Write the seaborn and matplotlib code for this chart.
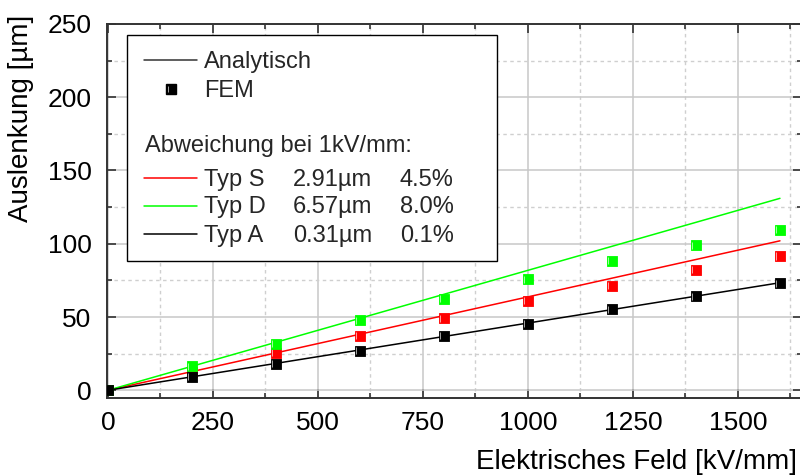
import matplotlib
matplotlib.use("Agg")
import matplotlib.pyplot as plt
from matplotlib.lines import Line2D
from matplotlib.patches import Rectangle
from matplotlib.path import Path
import numpy as np
import pandas as pd
import seaborn as sns

# ---------------- data ----------------
field_fem = [0, 200, 400, 600, 800, 1000, 1200, 1400, 1600]
fem_typ_s = [0, 12.5, 25.5, 36.9, 49.0, 60.8, 71.5, 82.0, 91.5]
fem_typ_d = [0, 16.4, 31.9, 47.8, 62.6, 75.6, 88.1, 99.0, 109.3]
fem_typ_a = [0, 9.1, 18.2, 26.9, 36.9, 45.5, 55.3, 64.0, 72.9]

field_analytic = [0, 1600]
ana_typ_s = [0, 102.0]
ana_typ_d = [0, 131.0]
ana_typ_a = [0, 73.4]

types = ["Typ S", "Typ D", "Typ A"]
colors = ["#ff0000", "#00ff00", "#000000"]
dev_um = ["2.91µm", "6.57µm", "0.31µm"]
dev_pct = ["4.5%", "8.0%", "0.1%"]

x_major = [0, 250, 500, 750, 1000, 1250, 1500]
x_minor = [125, 375, 625, 875, 1125, 1375, 1625]
y_major = [0, 50, 100, 150, 200, 250]
y_minor = [25, 75, 125, 175, 225]

fem_df = pd.DataFrame({
    "E": field_fem * 3,
    "u": fem_typ_s + fem_typ_d + fem_typ_a,
    "Typ": [t for t in types for _ in field_fem],
})
ana_df = pd.DataFrame({
    "E": field_analytic * 3,
    "u": ana_typ_s + ana_typ_d + ana_typ_a,
    "Typ": [t for t in types for _ in field_analytic],
})
palette = dict(zip(types, colors))

# white highlight stripe inside the square markers (Origin style)
stripe = Path([(-0.5, -0.5), (0.5, 0.5), (-0.36, -0.32), (-0.36, 0.36)],
              [Path.MOVETO, Path.MOVETO, Path.MOVETO, Path.LINETO])

# ---------------- style ----------------
sns.set_theme(style="white")
plt.rcParams["font.family"] = ["Liberation Sans", "DejaVu Sans"]

fig = plt.figure(figsize=(8.0, 4.76), dpi=100)
ax = fig.add_axes([0.1334, 0.1632, 1.002 - 0.1334, 0.9496 - 0.1632])

ax.set_xlim(-3, 1651.5)
ax.set_ylim(-5.5, 250)

ax.set_xticks(x_major)
ax.set_xticks(x_minor, minor=True)
ax.set_yticks(y_major)
ax.set_yticks(y_minor, minor=True)

ax.grid(True, which="major", color="#c8c8c8", linewidth=1.1, linestyle="-")
ax.grid(True, which="minor", color="#cfcfcf", linewidth=1.0, linestyle=(0, (2.5, 2.5)))
ax.set_axisbelow(True)

sns.lineplot(data=ana_df, x="E", y="u", hue="Typ", palette=palette,
             linewidth=1.1, legend=False, ax=ax, zorder=3)
for t, c in zip(types, colors):
    sub = fem_df[fem_df["Typ"] == t]
    sns.scatterplot(data=sub, x="E", y="u", color=c, marker="s", s=55,
                    linewidth=0.6, edgecolor=c, legend=False, ax=ax, zorder=4)
    sns.scatterplot(data=sub, x="E", y="u", marker=stripe, s=55,
                    facecolor="none", edgecolor="white", linewidth=0.45,
                    legend=False, ax=ax, zorder=4)

for sp in ax.spines.values():
    sp.set_color("#333333")
    sp.set_linewidth(1.4)

ax.tick_params(which="both", direction="in", top=True, right=True,
               bottom=True, left=True, color="#333333", width=1.2)
ax.tick_params(which="major", length=6.5)
ax.tick_params(which="minor", length=3.6)
ax.tick_params(axis="x", which="major", labelsize=19, pad=9, labelcolor="black")
ax.tick_params(axis="y", which="major", labelsize=19, pad=11, labelcolor="black")

ax.set_xlabel("Elektrisches Feld [kV/mm]", fontsize=20, loc="right", color="black")
ax.set_ylabel("Auslenkung [µm]", fontsize=20, loc="top", color="black")
ax.xaxis.set_label_coords(0.9934, -0.1355)
ax.yaxis.set_label_coords(-0.1046, 1.024)

# ---------------- legend box ----------------
T = ax.transAxes
ax.add_patch(Rectangle((0.0292, 0.3668), 0.5617 - 0.0292, 0.9706 - 0.3668,
                       transform=T, facecolor="white", edgecolor="black",
                       linewidth=1.0, zorder=10))
lx0, lx1 = 0.0537, 0.1299
ax.add_line(Line2D([lx0, lx1], [0.9038, 0.9038], transform=T, color="#333333",
                   linewidth=1.1, zorder=11))
ax.text(0.1405, 0.8816, "Analytisch", transform=T, fontsize=17, va="baseline",
        ha="left", zorder=11)
ax.add_line(Line2D([0.0925], [0.8272], transform=T, marker="s", markersize=6.5,
                   color="black", linestyle="none", zorder=11))
ax.add_line(Line2D([0.0925], [0.8272], transform=T, marker=stripe, markersize=6.5,
                   markeredgecolor="white", markerfacecolor="none",
                   markeredgewidth=0.45, linestyle="none", zorder=12))
ax.text(0.1405, 0.8043, "FEM", transform=T, fontsize=17, va="baseline",
        ha="left", zorder=11)
ax.text(0.0551, 0.6573, "Abweichung bei 1kV/mm:", transform=T, fontsize=17,
        va="baseline", ha="left", zorder=11)

line_y = [0.5878, 0.5138, 0.4382]
base_y = [0.568, 0.4943, 0.4184]
for t, c, du, dp, ly, by in zip(types, colors, dev_um, dev_pct, line_y, base_y):
    ax.add_line(Line2D([lx0, lx1], [ly, ly], transform=T, color=c,
                       linewidth=1.1, zorder=11))
    ax.text(0.1405, by, t, transform=T, fontsize=17, va="baseline", ha="left", zorder=11)
    ax.text(0.268, by, du, transform=T, fontsize=17, va="baseline", ha="left", zorder=11)
    ax.text(0.422, by, dp, transform=T, fontsize=17, va="baseline", ha="left", zorder=11)

fig.savefig("out.png", dpi=100)
